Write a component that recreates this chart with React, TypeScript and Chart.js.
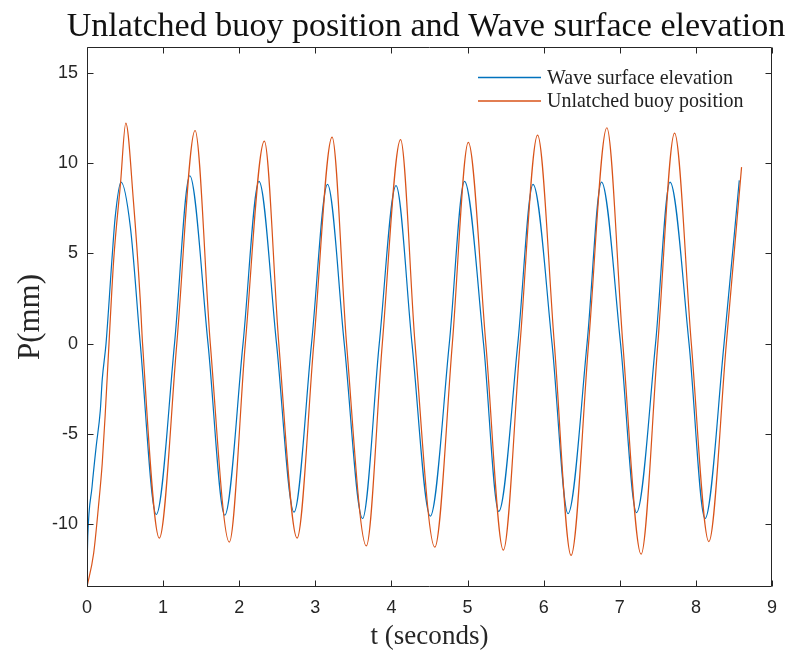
import React, { useEffect, useRef } from "react";
import { Chart, registerables } from "chart.js";

Chart.register(...registerables);

const TITLE = "Unlatched buoy position and Wave surface elevation";
const X_LABEL = "t (seconds)";
const Y_LABEL = "P(mm)";
const SERIES_LABELS = ["Wave surface elevation", "Unlatched buoy position"];
const SERIES_COLORS = ["#0072BD", "#D95319"];

const X_MIN = 0;
const X_MAX = 9;
const X_STEP = 1;
const Y_MIN = -13.5;
const Y_MAX = 16.45;
const Y_STEP = 5;

// Wave surface elevation (blue)
const waveT = [
  0, 0.01, 0.066, 0.12, 0.175, 0.2, 0.25, 0.33, 0.37, 0.447, 0.57, 0.7,
  0.91, 1.15, 1.35, 1.59, 1.81, 2.05, 2.26, 2.49, 2.72, 2.95, 3.16, 3.38,
  3.62, 3.84, 4.06, 4.27, 4.51, 4.76, 4.96, 5.21, 5.41, 5.66, 5.86, 6.11,
  6.32, 6.57, 6.76, 7.01, 7.22, 7.47, 7.66, 7.91, 8.12, 8.37, 8.57,
];
const waveP = [
  -12.5, -10.7, -7.95, -5.73, -3.7, -2.0, 0, 4.8, 7.0, 8.96, 6.46, 0,
  -9.48, 0, 9.31, 0, -9.52, 0, 9.0, 0, -9.35, 0, 8.83, 0,
  -9.7, 0, 8.76, 0, -9.57, 0, 9.0, 0, -9.31, 0, 8.83, 0,
  -9.43, 0, 8.96, 0, -9.37, 0, 8.96, 0, -9.7, 0, 9.05,
];

// Unlatched buoy position (orange)
const buoyT = [
  0, 0.087, 0.15, 0.2, 0.24, 0.289, 0.35, 0.44, 0.51, 0.61, 0.7, 0.73,
  0.95, 1.18, 1.42, 1.62, 1.87, 2.08, 2.33, 2.52, 2.76, 2.98, 3.22, 3.41,
  3.67, 3.88, 4.12, 4.31, 4.57, 4.8, 5.01, 5.24, 5.47, 5.69, 5.92, 6.14,
  6.36, 6.59, 6.83, 7.04, 7.28, 7.5, 7.72, 7.94, 8.17, 8.4, 8.6,
];
const buoyP = [
  -13.5, -11.64, -9.06, -6.65, -3.88, 0, 4.6, 8.87, 12.23, 7.9, 2.4, 0,
  -10.79, 0, 11.82, 0, -11.01, 0, 11.23, 0, -10.79, 0, 11.45, 0,
  -11.22, 0, 11.31, 0, -11.29, 0, 11.16, 0, -11.46, 0, 11.56, 0,
  -11.75, 0, 11.97, 0, -11.68, 0, 11.67, 0, -10.98, 0, 9.79,
];

const SERIF = "'Liberation Serif', 'DejaVu Serif', serif";
const SANS = "'Liberation Sans', Arial, sans-serif";
const AXIS_COLOR = "#262626";

function fitSize(ctx: CanvasRenderingContext2D, text: string, family: string, width: number): number {
  ctx.font = `100px ${family}`;
  const w = ctx.measureText(text).width;
  return (100 * width) / w;
}

const decorPlugin = {
  id: "decor",
  afterDraw(chart: any) {
    const { ctx, chartArea: a, scales } = chart;
    const xs = scales.x;
    const ys = scales.y;
    ctx.save();

    // box
    ctx.strokeStyle = AXIS_COLOR;
    ctx.lineWidth = 1;
    const L = Math.round(a.left) + 0.5;
    const R = Math.round(a.right) - 0.5;
    const T = Math.round(a.top) + 0.5;
    const B = Math.round(a.bottom) - 0.5;
    ctx.beginPath();
    ctx.rect(L, T, R - L, B - T);
    ctx.stroke();

    // inward ticks on all sides
    const tl = 6;
    ctx.beginPath();
    xs.ticks.forEach((t: any) => {
      const px = Math.round(xs.getPixelForValue(t.value)) + 0.5;
      ctx.moveTo(px, B);
      ctx.lineTo(px, B - tl);
      ctx.moveTo(px, T);
      ctx.lineTo(px, T + tl);
    });
    ys.ticks.forEach((t: any) => {
      const py = Math.round(ys.getPixelForValue(t.value)) + 0.5;
      ctx.moveTo(L, py);
      ctx.lineTo(L + tl, py);
      ctx.moveTo(R, py);
      ctx.lineTo(R - tl, py);
    });
    ctx.stroke();

    // title
    ctx.fillStyle = "#111";
    ctx.textAlign = "center";
    ctx.textBaseline = "alphabetic";
    const ts = fitSize(ctx, TITLE, SERIF, 719);
    ctx.font = `${ts}px ${SERIF}`;
    ctx.fillText(TITLE, 426, 36);

    // x label
    ctx.fillStyle = AXIS_COLOR;
    const xsz = fitSize(ctx, X_LABEL, SERIF, 118);
    ctx.font = `${xsz}px ${SERIF}`;
    ctx.fillText(X_LABEL, (a.left + a.right) / 2, 644);

    // y label
    const ysz = fitSize(ctx, Y_LABEL, SERIF, 86);
    ctx.save();
    ctx.translate(39, (a.top + a.bottom) / 2);
    ctx.rotate(-Math.PI / 2);
    ctx.font = `${ysz}px ${SERIF}`;
    ctx.fillText(Y_LABEL, 0, 0);
    ctx.restore();

    // legend
    const lsz = fitSize(ctx, SERIES_LABELS[0], SERIF, 186);
    ctx.font = `${lsz}px ${SERIF}`;
    ctx.textAlign = "left";
    ctx.textBaseline = "middle";
    const rows = [77.5, 101];
    SERIES_LABELS.forEach((lab, i) => {
      ctx.strokeStyle = SERIES_COLORS[i];
      ctx.lineWidth = 1.5;
      ctx.beginPath();
      ctx.moveTo(478, rows[i]);
      ctx.lineTo(541, rows[i]);
      ctx.stroke();
      ctx.fillStyle = "#222";
      ctx.fillText(lab, 547, rows[i] + 1);
    });

    ctx.restore();
  },
};

export default function App() {
  const ref = useRef<HTMLCanvasElement | null>(null);

  useEffect(() => {
    if (!ref.current) return;
    const chart = new Chart(ref.current, {
      type: "line",
      data: {
        datasets: [
          {
            label: SERIES_LABELS[0],
            data: waveT.map((t, i) => ({ x: t, y: waveP[i] })),
            borderColor: SERIES_COLORS[0],
            borderWidth: 1.2,
            pointRadius: 0,
            cubicInterpolationMode: "monotone",
            fill: false,
            order: 1,
          },
          {
            label: SERIES_LABELS[1],
            data: buoyT.map((t, i) => ({ x: t, y: buoyP[i] })),
            borderColor: SERIES_COLORS[1],
            borderWidth: 1.2,
            pointRadius: 0,
            cubicInterpolationMode: "monotone",
            fill: false,
            order: 0,
          },
        ],
      },
      options: {
        animation: false,
        responsive: false,
        devicePixelRatio: 1,
        layout: { padding: { left: 0, right: 23, top: 47, bottom: 0 } },
        plugins: {
          legend: { display: false },
          title: { display: false },
          tooltip: { enabled: false },
        },
        scales: {
          x: {
            type: "linear",
            min: X_MIN,
            max: X_MAX,
            grid: { display: false, drawTicks: false },
            border: { display: false },
            ticks: {
              stepSize: X_STEP,
              padding: 10,
              color: AXIS_COLOR,
              font: { family: SANS, size: 18 },
              maxRotation: 0,
            },
            afterFit: (s: any) => {
              s.height = 70;
            },
          },
          y: {
            type: "linear",
            min: Y_MIN,
            max: Y_MAX,
            grid: { display: false, drawTicks: false },
            border: { display: false },
            ticks: {
              stepSize: Y_STEP,
              padding: 9,
              color: AXIS_COLOR,
              font: { family: SANS, size: 18 },
            },
            afterBuildTicks: (s: any) => {
              s.ticks = s.ticks.filter(
                (t: any) => Math.abs(t.value / Y_STEP - Math.round(t.value / Y_STEP)) < 1e-9
              );
            },
            afterFit: (s: any) => {
              s.width = 87;
            },
          },
        },
      },
      plugins: [decorPlugin],
    });
    return () => chart.destroy();
  }, []);

  return (
    <div style={{ position: "absolute", left: 0, top: 0, width: 795, height: 657, background: "#fff" }}>
      <canvas ref={ref} width={795} height={657} />
    </div>
  );
}
